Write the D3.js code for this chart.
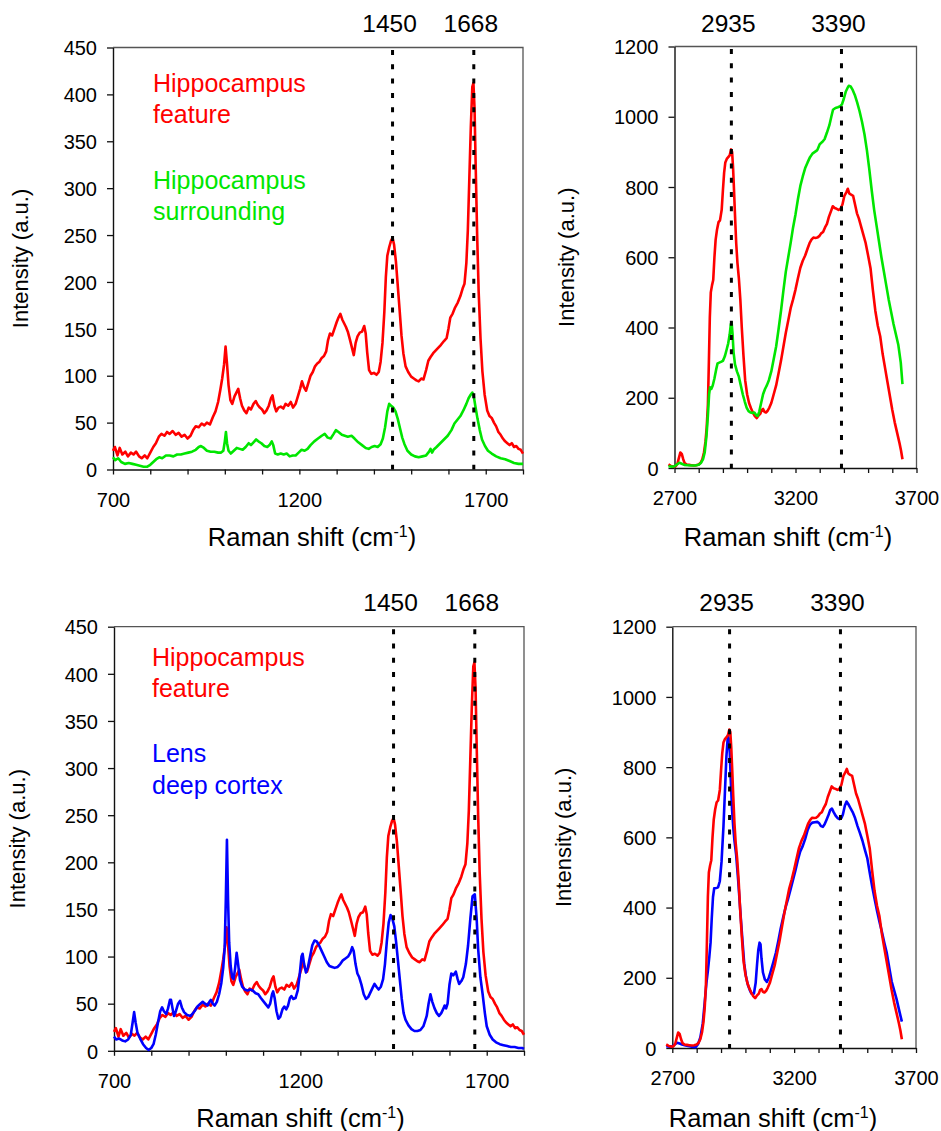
<!DOCTYPE html>
<html>
<head>
<meta charset="utf-8">
<script src="https://cdn.jsdelivr.net/npm/d3@7"></script>
<style>
  body { margin: 0; background: #fff; }
  svg text { font-family: "Liberation Sans", Arial, sans-serif; fill: #000; }
</style>
</head>
<body>
<svg id="chart" width="941" height="1131"></svg>
<script>
// fingerprint region, [shift, intensity]
var hipFeatureFP = [[700,20],[705,24],[712,15],[718,23],[725,16],[733,19],[740,14],[748,18],[755,16],[762,19],[770,14],[777,12],[785,15],[792,12],[800,18],[808,24],[815,28],[823,35],[830,38],[838,36],[845,40],[852,38],[860,41],[868,37],[876,39],[884,35],[892,37],[900,33],[908,36],[915,42],[922,46],[930,45],[938,49],[945,47],[952,50],[960,48],[968,56],[975,62],[982,72],[988,85],[993,97],[998,112],[1002,131],[1006,112],[1010,90],[1015,74],[1020,70],[1026,78],[1031,82],[1036,86],[1041,76],[1046,68],[1052,63],[1058,60],[1064,66],[1070,64],[1077,70],[1083,73],[1088,69],[1094,66],[1100,64],[1106,60],[1112,63],[1118,68],[1124,76],[1128,79],[1133,68],[1138,62],[1144,66],[1150,67],[1157,65],[1163,70],[1170,68],[1177,72],[1183,66],[1190,70],[1196,78],[1202,86],[1207,94],[1212,88],[1218,84],[1224,92],[1230,100],[1236,104],[1242,110],[1248,113],[1254,115],[1260,119],[1266,121],[1272,126],[1277,138],[1282,145],[1288,143],[1294,150],[1300,157],[1305,162],[1310,166],[1315,160],[1320,156],[1325,152],[1330,147],[1336,138],[1341,130],[1346,122],[1351,135],[1356,142],[1362,146],[1368,147],[1374,153],[1378,145],[1382,125],[1387,106],[1393,102],[1400,103],[1407,101],[1413,104],[1418,115],[1423,135],[1428,168],[1432,205],[1436,228],[1441,237],[1446,244],[1450,247],[1454,240],[1459,222],[1464,196],[1469,170],[1474,143],[1479,124],[1485,110],[1492,104],[1500,99],[1507,97],[1514,95],[1520,94],[1527,97],[1533,96],[1540,106],[1546,116],[1552,120],[1559,124],[1566,127],[1573,130],[1580,133],[1588,137],[1595,140],[1600,150],[1605,162],[1611,166],[1618,173],[1625,178],[1632,185],[1638,193],[1643,198],[1648,220],[1652,255],[1656,310],[1660,365],[1664,408],[1667,412],[1670,385],[1673,325],[1677,250],[1681,190],[1686,140],[1691,105],[1697,80],[1704,63],[1710,57],[1716,55],[1722,50],[1728,46],[1734,40],[1740,37],[1746,33],[1752,30],[1758,28],[1764,26],[1770,28],[1776,24],[1782,25],[1788,22],[1794,21],[1800,17]];
var hipSurroundFP = [[700,13],[706,10],[714,12],[722,8],[732,6],[742,7],[752,6],[762,5],[772,4],[782,3],[792,3],[800,5],[808,8],[816,11],[824,13],[832,12],[842,15],[852,15],[862,14],[872,16],[882,16],[892,17],[902,18],[912,19],[922,21],[930,24],[936,25],[944,23],[952,20],[962,19],[972,19],[982,18],[990,18],[996,20],[1000,30],[1003,40],[1006,28],[1010,20],[1016,17],[1024,20],[1032,23],[1040,22],[1048,21],[1056,24],[1064,28],[1070,26],[1077,29],[1084,32],[1090,30],[1098,28],[1106,25],[1114,24],[1120,26],[1126,30],[1130,26],[1135,17],[1142,16],[1150,17],[1158,16],[1166,17],[1174,14],[1182,15],[1190,15],[1198,18],[1206,21],[1214,20],[1222,22],[1230,26],[1240,30],[1250,33],[1260,36],[1268,38],[1276,34],[1284,33],[1292,38],[1298,42],[1305,40],[1314,37],[1322,36],[1330,35],[1340,36],[1348,33],[1358,29],[1368,26],[1378,23],[1386,22],[1394,24],[1402,25],[1410,24],[1418,27],[1424,33],[1430,45],[1436,62],[1441,70],[1446,68],[1452,66],[1458,62],[1464,54],[1470,44],[1476,34],[1482,27],[1490,20],[1500,16],[1510,14],[1520,13],[1530,14],[1540,15],[1548,19],[1552,22],[1556,18],[1560,21],[1568,24],[1578,28],[1588,32],[1598,36],[1608,42],[1616,49],[1624,53],[1632,57],[1640,63],[1648,70],[1654,76],[1660,80],[1664,82],[1668,78],[1672,68],[1678,54],[1684,42],[1690,32],[1698,25],[1706,20],[1716,17],[1728,14],[1740,12],[1752,11],[1764,9],[1776,7],[1788,6],[1800,6]];
var lensFP = [[700,15],[706,12],[714,13],[722,11],[730,10],[738,12],[745,17],[750,30],[754,41],[758,30],[763,19],[770,13],[778,7],[786,3],[793,1],[800,3],[806,7],[812,17],[818,30],[824,42],[829,46],[834,42],[840,39],[845,45],[850,54],[853,54],[857,45],[861,37],[866,42],[872,50],[877,53],[882,46],[888,41],[896,38],[906,37],[916,42],[924,47],[932,50],[938,52],[944,50],[951,48],[956,52],[960,54],[965,50],[970,48],[976,52],[982,60],[988,72],[993,88],[997,110],[1000,160],[1003,224],[1006,160],[1009,115],[1013,90],[1017,78],[1021,76],[1025,88],[1029,104],[1033,92],[1038,75],[1044,68],[1051,65],[1058,64],[1065,65],[1072,64],[1080,61],[1087,60],[1094,56],[1100,53],[1108,49],[1114,46],[1119,50],[1124,60],[1127,63],[1131,56],[1136,42],[1141,34],[1146,36],[1152,44],[1157,47],[1162,44],[1167,48],[1172,56],[1176,58],[1181,55],[1187,56],[1193,64],[1198,80],[1203,100],[1206,103],[1210,92],[1215,83],[1220,88],[1226,100],[1232,112],[1238,117],[1244,116],[1250,112],[1257,106],[1264,100],[1271,94],[1278,90],[1285,89],[1292,88],[1300,89],[1307,92],[1314,96],[1321,98],[1328,100],[1334,104],[1339,110],[1343,106],[1348,92],[1353,82],[1358,78],[1364,70],[1370,60],[1376,55],[1382,57],[1388,62],[1394,67],[1399,71],[1404,68],[1410,65],[1416,68],[1422,76],[1427,92],[1432,116],[1437,136],[1442,144],[1447,140],[1452,132],[1457,115],[1462,95],[1467,75],[1472,55],[1477,40],[1482,33],[1490,27],[1498,23],[1506,21],[1514,21],[1522,22],[1530,26],[1535,32],[1539,37],[1544,50],[1549,60],[1554,52],[1560,45],[1566,40],[1572,37],[1578,40],[1584,45],[1587,48],[1591,45],[1595,50],[1600,70],[1605,82],[1610,80],[1617,84],[1622,76],[1626,71],[1632,74],[1637,78],[1644,92],[1650,112],[1656,140],[1662,164],[1668,166],[1673,140],[1677,108],[1683,78],[1689,60],[1695,40],[1700,26],[1708,17],[1716,12],[1725,9],[1735,7],[1745,6],[1755,5],[1765,4],[1775,4],[1785,3],[1795,3],[1800,2]];

// high wavenumber region
var hipFeatureHW = [[2675,10],[2685,6],[2695,4],[2705,5],[2712,12],[2718,28],[2724,44],[2730,40],[2736,25],[2742,14],[2750,10],[2760,9],[2770,8],[2780,7],[2790,8],[2800,10],[2808,15],[2815,25],[2822,45],[2828,75],[2833,115],[2838,180],[2842,300],[2846,430],[2850,500],[2855,520],[2860,535],[2865,600],[2870,650],[2876,680],[2882,700],[2888,705],[2895,735],[2900,790],[2905,840],[2910,870],[2916,880],[2922,885],[2928,890],[2934,907],[2938,900],[2942,855],[2946,790],[2950,720],[2955,640],[2960,585],[2966,540],[2972,480],[2978,400],[2985,320],[2992,250],[3000,210],[3008,185],[3016,170],[3024,158],[3032,148],[3040,142],[3048,150],[3055,155],[3060,165],[3066,168],[3072,160],[3078,158],[3085,163],[3092,172],[3100,185],[3110,210],[3120,235],[3130,270],[3140,305],[3150,345],[3160,385],[3170,420],[3180,455],[3190,480],[3200,508],[3210,540],[3220,570],[3230,590],[3240,605],[3250,625],[3258,640],[3266,650],[3274,656],[3282,655],[3290,656],[3298,660],[3306,668],[3314,672],[3322,685],[3330,695],[3338,715],[3346,730],[3354,745],[3362,740],[3370,738],[3378,735],[3386,738],[3394,750],[3402,775],[3410,785],[3416,795],[3422,782],[3430,778],[3438,775],[3446,750],[3454,725],[3462,710],[3470,690],[3480,665],[3490,640],[3500,605],[3510,569],[3520,505],[3530,447],[3540,405],[3550,375],[3560,325],[3570,285],[3580,245],[3590,205],[3600,165],[3610,130],[3620,100],[3630,70],[3636,50],[3642,25]];
var hipSurroundHW = [[2675,5],[2690,4],[2700,5],[2710,10],[2720,15],[2730,12],[2740,9],[2755,8],[2770,7],[2785,7],[2800,9],[2810,15],[2818,25],[2825,45],[2832,90],[2838,150],[2843,210],[2847,230],[2852,225],[2858,235],[2865,255],[2872,280],[2878,298],[2885,300],[2892,302],[2900,305],[2908,318],[2915,336],[2922,355],[2928,380],[2933,410],[2936,415],[2940,380],[2944,330],[2950,295],[2958,275],[2966,260],[2974,235],[2982,210],[2990,190],[2998,172],[3006,162],[3014,158],[3022,157],[3030,158],[3038,150],[3044,148],[3050,160],[3058,185],[3066,210],[3074,225],[3082,236],[3090,250],[3100,275],[3110,310],[3120,346],[3130,395],[3140,447],[3150,505],[3160,559],[3170,600],[3180,641],[3190,685],[3200,722],[3210,765],[3220,803],[3230,830],[3240,854],[3250,870],[3260,885],[3270,895],[3280,900],[3290,905],[3300,922],[3310,928],[3320,936],[3330,955],[3340,976],[3348,1000],[3355,1020],[3365,1025],[3375,1027],[3385,1030],[3392,1035],[3400,1052],[3408,1072],[3415,1082],[3420,1088],[3428,1086],[3435,1078],[3445,1062],[3455,1040],[3465,1015],[3475,985],[3485,950],[3495,905],[3505,850],[3515,790],[3525,735],[3535,690],[3545,645],[3555,600],[3565,560],[3575,520],[3585,480],[3595,445],[3605,410],[3615,380],[3625,350],[3635,300],[3642,239]];
var lensHW = [[2675,5],[2690,4],[2700,5],[2710,10],[2720,15],[2730,13],[2740,10],[2755,7],[2770,5],[2785,3],[2795,2],[2805,10],[2815,30],[2825,70],[2833,130],[2840,185],[2846,220],[2852,260],[2857,300],[2862,371],[2867,430],[2872,455],[2880,456],[2888,458],[2895,475],[2902,530],[2910,632],[2916,730],[2922,830],[2928,890],[2932,880],[2936,840],[2940,760],[2945,682],[2950,630],[2955,591],[2962,550],[2970,480],[2980,381],[2988,305],[2995,241],[3002,205],[3010,180],[3018,165],[3025,155],[3035,155],[3042,185],[3048,240],[3053,280],[3058,300],[3062,295],[3066,255],[3072,215],[3080,195],[3088,188],[3096,200],[3105,221],[3115,245],[3125,271],[3135,305],[3145,341],[3155,372],[3165,401],[3175,425],[3185,451],[3195,478],[3205,505],[3215,535],[3225,560],[3235,575],[3245,595],[3255,620],[3265,636],[3275,642],[3285,643],[3295,644],[3303,640],[3310,632],[3318,630],[3325,637],[3333,650],[3340,662],[3348,678],[3355,682],[3362,672],[3370,662],[3378,655],[3386,652],[3394,655],[3400,665],[3408,690],[3415,702],[3422,695],[3430,685],[3440,672],[3450,655],[3460,632],[3470,612],[3480,591],[3490,565],[3500,541],[3510,500],[3520,461],[3530,425],[3540,391],[3550,360],[3560,331],[3570,300],[3580,271],[3590,230],[3600,190],[3610,165],[3620,140],[3630,110],[3642,75]];

var fpPeaks = [1450, 1668];
var hwPeaks = [2935, 3390];
var fpLabels = [700, 1200, 1700];
var hwLabels = [2700, 3200, 3700];
var legendTop = ['Hippocampus', 'feature', 'Hippocampus', 'surrounding'];
var legendBottom = ['Hippocampus', 'feature', 'Lens', 'deep cortex'];

var RED = '#ff0000', GREEN = '#00e600', BLUE = '#0000ff';

var svg = d3.select('#chart');

var panels = [
    { l: 113, r: 523, t: 47.5, b: 469.5, xd: [700, 1800], ymax: 450, ystep: 50, xlab: fpLabels, peaks: fpPeaks,
      series: [[hipFeatureFP, RED], [hipSurroundFP, GREEN]], yTitleX: 28, xTitleX: 312, xTitleY: 546, peakY: 32,
      legend: { x: 153, lines: legendTop, colors: [RED, RED, GREEN, GREEN], ys: [92, 123, 188.5, 219.5] } },
    { l: 674.5, r: 916.5, t: 46.5, b: 468, xd: [2700, 3700], ymax: 1200, ystep: 200, xlab: hwLabels, peaks: hwPeaks,
      series: [[hipFeatureHW, RED], [hipSurroundHW, GREEN]], yTitleX: 574, xTitleX: 788, xTitleY: 546, peakY: 31.5 },
    { l: 114, r: 524, t: 626.7, b: 1050.8, xd: [700, 1800], ymax: 450, ystep: 50, xlab: fpLabels, peaks: fpPeaks,
      series: [[hipFeatureFP, RED], [lensFP, BLUE]], yTitleX: 25, xTitleX: 300.5, xTitleY: 1127, peakY: 611,
      legend: { x: 152, lines: legendBottom, colors: [RED, RED, BLUE, BLUE], ys: [666, 697, 762, 793.5] } },
    { l: 672.3, r: 916, t: 626.7, b: 1048, xd: [2700, 3700], ymax: 1200, ystep: 200, xlab: hwLabels, peaks: hwPeaks,
      series: [[lensHW, BLUE], [hipFeatureHW, RED]], yTitleX: 571, xTitleX: 773, xTitleY: 1127, peakY: 611 }
];

panels.forEach(function (p) {
    var x = d3.scaleLinear().domain(p.xd).range([p.l, p.r]);
    var y = d3.scaleLinear().domain([0, p.ymax]).range([p.b, p.t]);
    var g = svg.append('g');

    // frame top/right
    g.append('path')
        .attr('d', 'M' + p.l + ',' + p.t + 'H' + p.r + 'V' + p.b)
        .attr('fill', 'none')
        .attr('stroke', '#555')
        .attr('stroke-width', 1.3);

    var xAxis = d3.axisBottom(x)
        .tickValues(d3.range(p.xd[0], p.xd[1] + 1, 100))
        .tickSize(5)
        .tickSizeOuter(0)
        .tickFormat(function (d) { return p.xlab.indexOf(d) >= 0 ? d : ''; });
    var gx = g.append('g').attr('transform', 'translate(0,' + p.b + ')').call(xAxis);
    gx.selectAll('text').attr('y', 37).attr('dy', 0).style('font-size', '20px');

    var yAxis = d3.axisLeft(y)
        .tickValues(d3.range(0, p.ymax + 1, p.ystep))
        .tickSize(6)
        .tickSizeOuter(0)
        .tickPadding(10)
        .tickFormat(d3.format('d'));
    var gy = g.append('g').attr('transform', 'translate(' + p.l + ',0)').call(yAxis);
    gy.selectAll('text').style('font-size', '20px').attr('dy', '0.36em');

    [gx, gy].forEach(function (a) {
        a.select('.domain').attr('stroke', '#111').attr('stroke-width', 1.4);
        a.selectAll('.tick line').attr('stroke', '#111').attr('stroke-width', 1.3);
    });

    // spectra
    var line = d3.line().x(function (d) { return x(d[0]); }).y(function (d) { return y(d[1]); });
    p.series.forEach(function (s) {
        g.append('path')
            .datum(s[0])
            .attr('d', line)
            .attr('fill', 'none')
            .attr('stroke', s[1])
            .attr('stroke-width', 2.6)
            .attr('stroke-linejoin', 'round');
    });

    // peak markers
    p.peaks.forEach(function (v) {
        g.append('line')
            .attr('x1', x(v)).attr('x2', x(v))
            .attr('y1', p.t + 2.5).attr('y2', p.b)
            .attr('stroke', '#000')
            .attr('stroke-width', 3)
            .attr('stroke-dasharray', '5,9.3');
        g.append('text')
            .attr('x', x(v) - 3)
            .attr('y', p.peakY)
            .attr('text-anchor', 'middle')
            .style('font-size', '24.5px')
            .text(v);
    });

    // axis titles
    g.append('text')
        .attr('transform', 'translate(' + p.yTitleX + ',' + ((p.t + p.b) / 2) + ') rotate(-90)')
        .attr('text-anchor', 'middle')
        .style('font-size', '22px')
        .text('Intensity (a.u.)');

    var xt = g.append('text')
        .attr('x', p.xTitleX)
        .attr('y', p.xTitleY)
        .attr('text-anchor', 'middle')
        .style('font-size', '25.5px');
    xt.append('tspan').text('Raman shift (cm');
    xt.append('tspan').attr('dy', -9).style('font-size', '16px').text('-1');
    xt.append('tspan').attr('dy', 9).text(')');

    if (p.legend) {
        p.legend.lines.forEach(function (txt, i) {
            g.append('text')
                .attr('x', p.legend.x)
                .attr('y', p.legend.ys[i])
                .style('font-size', '25px')
                .style('fill', p.legend.colors[i])
                .text(txt);
        });
    }
});
</script>
</body>
</html>
